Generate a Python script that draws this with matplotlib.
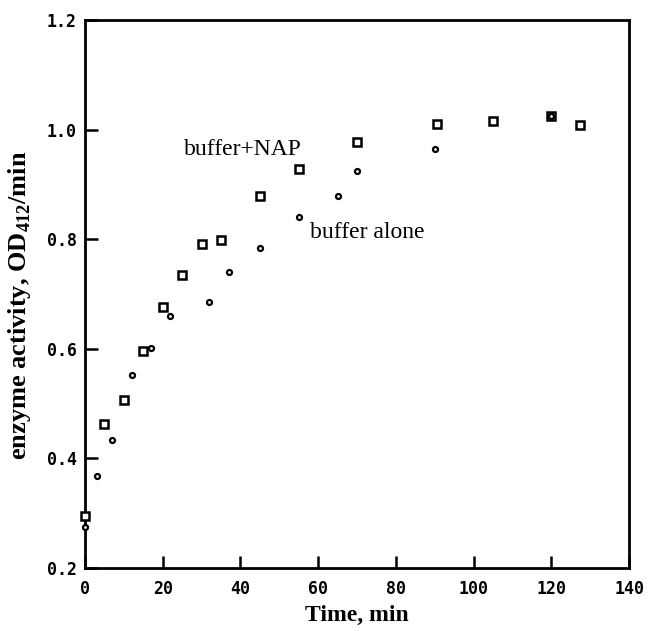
import matplotlib
matplotlib.use("Agg")
import matplotlib.pyplot as plt

# buffer + NAP (squares)
nap_time = [0, 5, 10, 15, 20, 25, 30, 35, 45, 55, 70, 90.5, 105, 120, 127.5]
nap_act = [0.295, 0.462, 0.506, 0.596, 0.677, 0.735, 0.791, 0.799, 0.879,
           0.929, 0.977, 1.011, 1.016, 1.024, 1.008]

# buffer alone (circles)
buf_time = [0, 3, 7, 12, 17, 22, 32, 37, 45, 55, 65, 70, 90, 120]
buf_act = [0.275, 0.367, 0.434, 0.552, 0.601, 0.660, 0.685, 0.741, 0.784,
           0.840, 0.878, 0.925, 0.965, 1.025]

xticks = [0, 20, 40, 60, 80, 100, 120, 140]
yticks = [0.2, 0.4, 0.6, 0.8, 1.0, 1.2]

serif = "Liberation Serif"
mono = "DejaVu Sans Mono"

fig = plt.figure(figsize=(6.49, 6.31), dpi=100)
ax = fig.add_axes([85 / 649, 1 - 568 / 631, 544 / 649, 548 / 631])

ax.plot(nap_time, nap_act, linestyle="none", marker="s", markersize=6,
        markerfacecolor="white", markeredgecolor="black", markeredgewidth=1.8,
        clip_on=False, zorder=3)
ax.plot(buf_time, buf_act, linestyle="none", marker="o", markersize=3.6,
        markerfacecolor="white", markeredgecolor="black", markeredgewidth=1.6,
        clip_on=False, zorder=4)

ax.text(55.8, 0.954, "buffer+NAP", fontsize=17, family=serif, ha="right", va="baseline")
ax.text(57.9, 0.802, "buffer alone", fontsize=17, family=serif, ha="left", va="baseline")

ax.set_xlim(0, 140)
ax.set_ylim(0.2, 1.2)
ax.set_xticks(xticks)
ax.set_yticks(yticks)
ax.set_xticklabels([str(t) for t in xticks])
ax.set_yticklabels(["%.1f" % t for t in yticks])
ax.tick_params(direction="in", length=9, width=1.8, top=False, right=False)
ax.tick_params(axis="x", pad=9)
ax.tick_params(axis="y", pad=6)
for lab in ax.get_xticklabels() + ax.get_yticklabels():
    lab.set_fontfamily(mono)
    lab.set_fontweight("bold")
    lab.set_fontsize(12)

for sp in ax.spines.values():
    sp.set_linewidth(2)

ax.set_xlabel("Time, min", fontsize=17, family=serif, fontweight="bold", labelpad=5)
ax.set_ylabel(r"enzyme activity, OD$_{\mathregular{412}}$/min", fontsize=19,
              family=serif, fontweight="bold")
ax.yaxis.set_label_coords(-0.095, 0.48)

fig.savefig("out.png", dpi=100)
plt.close("all")
